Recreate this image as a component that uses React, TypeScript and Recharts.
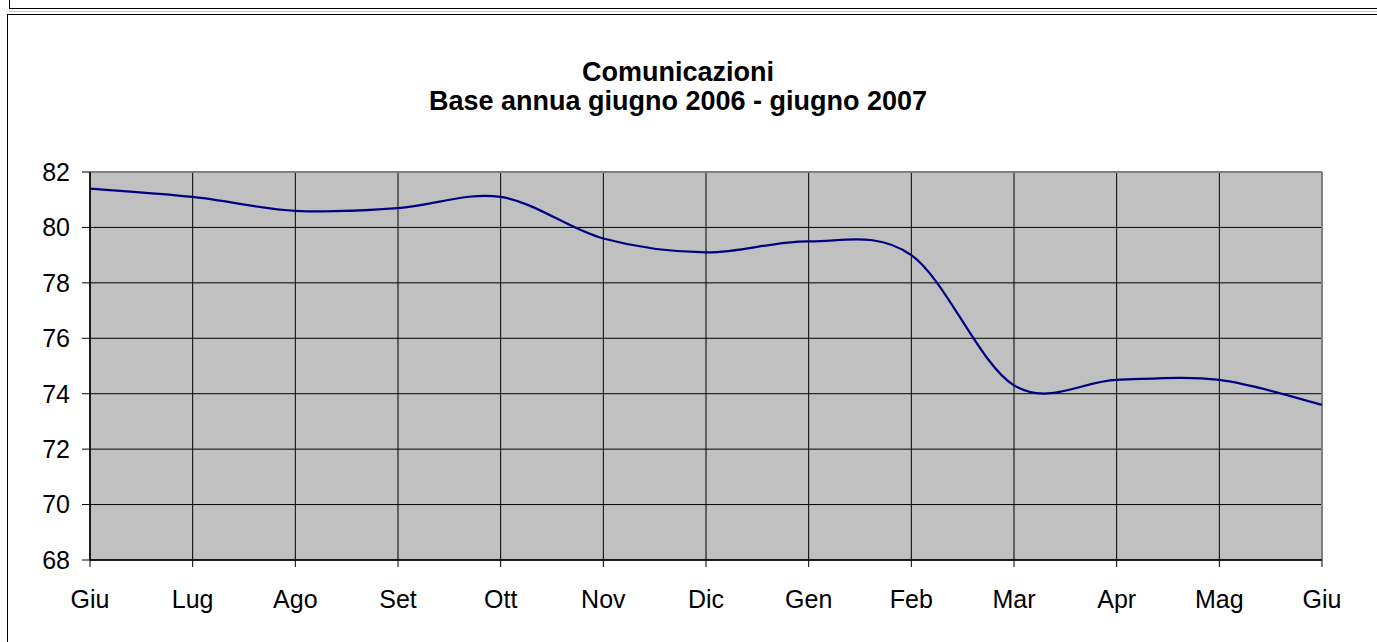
import { LineChart, Line, XAxis, YAxis, CartesianGrid, ReferenceLine } from 'recharts'

const MONTHS = ['Giu', 'Lug', 'Ago', 'Set', 'Ott', 'Nov', 'Dic', 'Gen', 'Feb', 'Mar', 'Apr', 'Mag', 'Giu']
const VALUES = [81.4, 81.1, 80.6, 80.7, 81.1, 79.6, 79.1, 79.5, 79.0, 74.3, 74.5, 74.5, 73.6]
const Y_TICKS = [68, 70, 72, 74, 76, 78, 80, 82]
const TITLE = ['Comunicazioni', 'Base annua giugno 2006 - giugno 2007']

const data = MONTHS.map((m, i) => ({ i, month: m, value: VALUES[i] }))

// Excel-style smoothed line (uniform Catmull-Rom as cubic beziers)
function excelSmooth(context: any) {
  let pts: [number, number][] = []
  return {
    areaStart() {},
    areaEnd() {},
    lineStart() {
      pts = []
    },
    lineEnd() {
      if (!pts.length) return
      context.moveTo(pts[0][0], pts[0][1])
      for (let k = 0; k < pts.length - 1; k++) {
        const p0 = pts[Math.max(k - 1, 0)]
        const p1 = pts[k]
        const p2 = pts[k + 1]
        const p3 = pts[Math.min(k + 2, pts.length - 1)]
        context.bezierCurveTo(
          p1[0] + (p2[0] - p0[0]) / 6,
          p1[1] + (p2[1] - p0[1]) / 6,
          p2[0] - (p3[0] - p1[0]) / 6,
          p2[1] - (p3[1] - p1[1]) / 6,
          p2[0],
          p2[1]
        )
      }
    },
    point(x: number, y: number) {
      pts.push([+x, +y])
    },
  }
}

const font = '"Liberation Sans", Arial, sans-serif'

export default function App() {
  return (
    <div
      style={{
        position: 'absolute',
        left: 0,
        top: 0,
        width: 1377,
        height: 642,
        overflow: 'hidden',
        background: '#fff',
        fontFamily: font,
      }}
    >
      {/* edge of the box above */}
      <div style={{ position: 'absolute', left: 9, top: -2, width: 1400, height: 10, borderLeft: '1px solid #000', borderBottom: '1px solid #000' }} />
      <div style={{ position: 'absolute', left: 9, top: 11, width: 1400, height: 0, borderTop: '1px solid #c8c8c8' }} />
      {/* chart frame */}
      <div style={{ position: 'absolute', left: 7, top: 14, width: 1400, height: 700, borderLeft: '1px solid #000', borderTop: '1px solid #000' }} />

      <div
        style={{
          position: 'absolute',
          left: 8,
          top: 58,
          width: 1340,
          textAlign: 'center',
          fontWeight: 'bold',
          fontSize: 27,
          lineHeight: '29px',
          color: '#000',
        }}
      >
        {TITLE.map((t) => (
          <div key={t}>{t}</div>
        ))}
      </div>

      <div style={{ position: 'absolute', left: 0, top: 0 }}>
        <LineChart width={1377} height={642} data={data} margin={{ top: 172, right: 55, left: 30, bottom: 42 }}>
          <CartesianGrid stroke="#000" strokeWidth={1} fill="#C0C0C0" fillOpacity={1} />
          <XAxis
            dataKey="i"
            type="number"
            domain={[0, 12]}
            ticks={data.map((d) => d.i)}
            tickFormatter={(v) => MONTHS[v]}
            interval={0}
            height={40}
            tickSize={7}
            tickMargin={23}
            axisLine={{ stroke: '#000', strokeWidth: 1.5 }}
            tickLine={{ stroke: '#000' }}
            tick={{ fill: '#000', fontSize: 25, fontFamily: font }}
          />
          <YAxis
            domain={[68, 82]}
            ticks={Y_TICKS}
            width={60}
            tickSize={8}
            tickMargin={12}
            axisLine={{ stroke: '#000', strokeWidth: 1.5 }}
            tickLine={{ stroke: '#000' }}
            tick={{ fill: '#000', fontSize: 25, fontFamily: font }}
          />
          <ReferenceLine y={82} stroke="#808080" strokeWidth={2} />
          <ReferenceLine x={12} stroke="#808080" strokeWidth={2} />
          <Line
            dataKey="value"
            type={excelSmooth as any}
            stroke="#000080"
            strokeWidth={2.2}
            dot={false}
            activeDot={false}
            isAnimationActive={false}
          />
        </LineChart>
      </div>
    </div>
  )
}
